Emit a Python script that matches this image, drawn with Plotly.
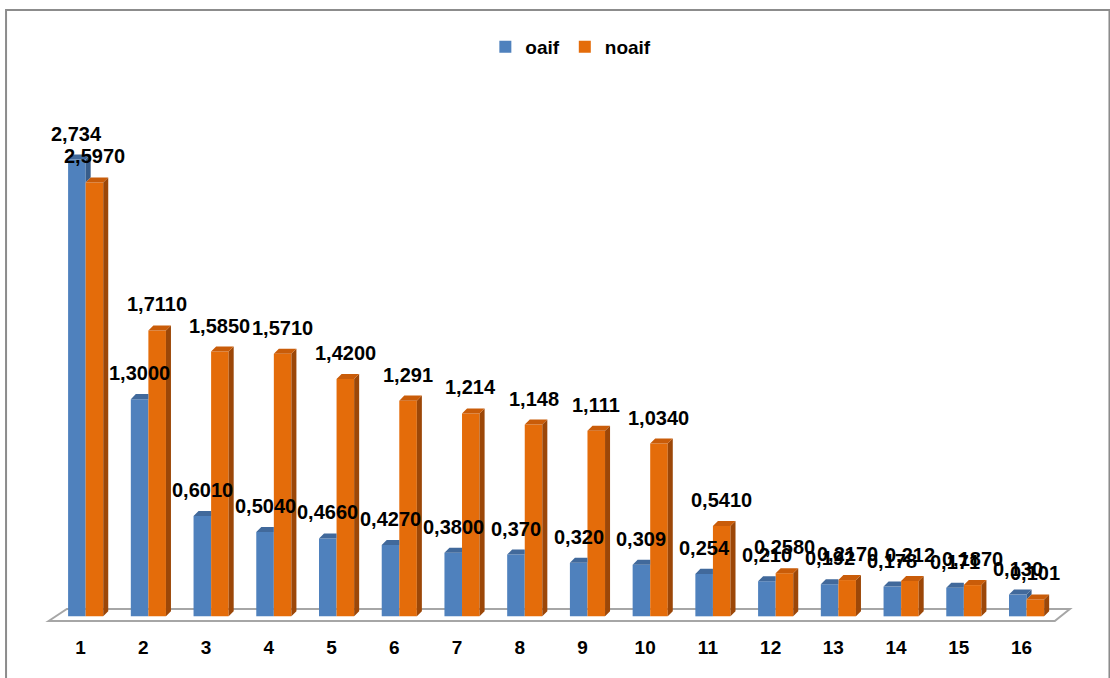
import plotly.graph_objects as go

# ---- data ----
categories = list(range(1, 17))
tick_labels = [str(c) for c in categories]
oaif = [2.734, 1.300, 0.601, 0.504, 0.466, 0.427, 0.380, 0.370, 0.320, 0.309,
        0.254, 0.210, 0.192, 0.178, 0.171, 0.130]
noaif = [2.597, 1.711, 1.585, 1.571, 1.420, 1.291, 1.214, 1.148, 1.111, 1.034,
         0.541, 0.258, 0.217, 0.212, 0.187, 0.101]
oaif_labels = ["2,734", "1,3000", "0,6010", "0,5040", "0,4660", "0,4270", "0,3800", "0,370",
               "0,320", "0,309", "0,254", "0,210", "0,192", "0,178", "0,171", "0,130"]
noaif_labels = ["2,5970", "1,7110", "1,5850", "1,5710", "1,4200", "1,291", "1,214", "1,148",
                "1,111", "1,0340", "0,5410", "0,2580", "0,2170", "0,212", "0,1870", "0,101"]

# ---- style ----
BLUE, BLUE_TOP, BLUE_SIDE = "#4f81bd", "#41699b", "#385d8a"
ORANGE, ORANGE_TOP, ORANGE_SIDE = "#e46c0a", "#c95c09", "#9c4708"
FONT = "Liberation Sans, Arial, sans-serif"
W = 0.28          # bar width (x units)
OFF_B = -0.20     # offset of oaif bar
OFF_O = OFF_B + W # offset of noaif bar
DX, DY = 0.08, 0.03  # depth of the pseudo-3D faces

fig = go.Figure()
fig.add_trace(go.Bar(x=categories, y=oaif, name="oaif", offset=OFF_B, width=W,
                     marker=dict(color=BLUE, line=dict(width=0)), hoverinfo="x+y"))
fig.add_trace(go.Bar(x=categories, y=noaif, name="noaif", offset=OFF_O, width=W,
                     marker=dict(color=ORANGE, line=dict(width=0)), hoverinfo="x+y"))


def faces(vals, off, other=None):
    """Top and side face polygons in data coordinates (None-separated)."""
    tx, ty, sx, sy = [], [], [], []
    for i, (c, v) in enumerate(zip(categories, vals)):
        x0, x1 = c + off, c + off + W
        o = None if other is None else other[i]
        if o is None or v > o:
            tx += [x0, x1, x1 + DX, x0 + DX, x0, None]
            ty += [v, v, v + DY, v + DY, v, None]
            base = 0 if o is None else o
            sx += [x1, x1, x1 + DX, x1 + DX, x1, None]
            sy += [base, v, v + DY, base + DY, base, None]
        else:
            tx += [x0, x1, x1, x0 + DX, x0, None]
            ty += [v, v, v + DY, v + DY, v, None]
    return tx, ty, sx, sy


for vals, off, other, ctop, cside in [(oaif, OFF_B, noaif, BLUE_TOP, BLUE_SIDE),
                                      (noaif, OFF_O, None, ORANGE_TOP, ORANGE_SIDE)]:
    tx, ty, sx, sy = faces(vals, off, other)
    if sx:
        fig.add_trace(go.Scatter(x=sx, y=sy, mode="lines", fill="toself", fillcolor=cside,
                                 line=dict(width=0, color=cside), showlegend=False,
                                 hoverinfo="skip"))
    fig.add_trace(go.Scatter(x=tx, y=ty, mode="lines", fill="toself", fillcolor=ctop,
                             line=dict(width=0, color=ctop), showlegend=False,
                             hoverinfo="skip"))

annotations = []
for vals, labels, off in [(oaif, oaif_labels, OFF_B), (noaif, noaif_labels, OFF_O)]:
    for c, v, t in zip(categories, vals, labels):
        annotations.append(dict(x=c + off + W / 2, y=v, text=t, showarrow=False,
                                xanchor="center", yanchor="middle", yshift=26,
                                font=dict(family=FONT, size=20, color="black",
                                          weight="bold")))

shapes = [
    # floor
    dict(type="path", xref="x", yref="y", layer="below",
         path="M 0.49 -0.028 L 0.78 0.044 L 16.77 0.044 L 16.53 -0.028 Z",
         line=dict(color="#a6a6a6", width=2), fillcolor="white"),
    # chart border
    dict(type="rect", xref="paper", yref="paper", x0=-0.0357, y0=-0.2, x1=1.0304, y1=1.1085,
         line=dict(color="#8c8c8c", width=2), fillcolor="rgba(0,0,0,0)", layer="below"),
]

fig.update_layout(
    width=1110, height=678,
    margin=dict(l=43, r=32, t=70, b=55),
    paper_bgcolor="white", plot_bgcolor="white",
    barmode="overlay",
    showlegend=True,
    legend=dict(orientation="h", x=0.51, xanchor="center", y=1.0416, yanchor="middle",
                font=dict(family=FONT, size=19, color="black", weight="bold"),
                itemwidth=30, traceorder="normal", bgcolor="rgba(0,0,0,0)"),
    xaxis=dict(range=[0.4, 16.9], tickmode="array", tickvals=categories, ticktext=tick_labels,
               showgrid=False, zeroline=False, showline=False, ticks="outside", ticklen=7,
               tickcolor="rgba(0,0,0,0)",
               tickfont=dict(family=FONT, size=19, color="black", weight="bold")),
    yaxis=dict(range=[-0.04, 3.27], visible=False, showgrid=False, zeroline=False),
    annotations=annotations,
    shapes=shapes,
)

fig.write_html("out.html", config={"displayModeBar": False},
               post_script="document.body.style.margin='0';")
